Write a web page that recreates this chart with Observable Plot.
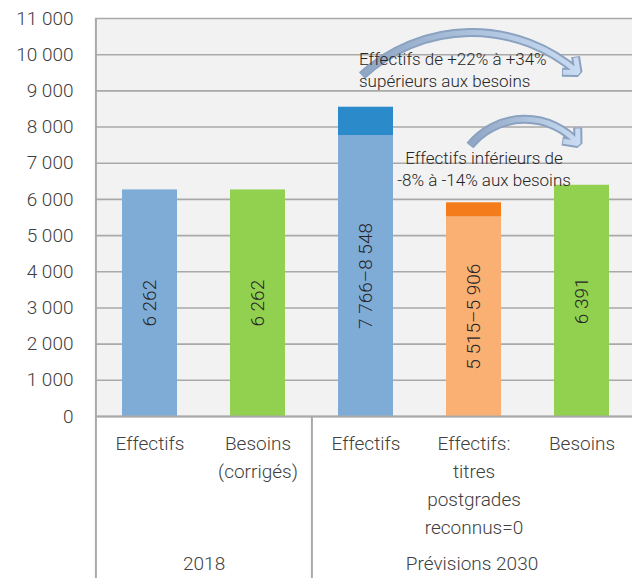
<!DOCTYPE html>
<html><head><meta charset="utf-8">
<script src="https://cdn.jsdelivr.net/npm/d3@7"></script>
<script src="https://cdn.jsdelivr.net/npm/@observablehq/plot@0.6"></script>
<style>
html,body{margin:0;padding:0;background:#fff;}
</style>
</head><body><div id="chart"></div>
<script>
// ---- data ----
const categories = ["Effectifs 2018", "Besoins 2018", "Effectifs 2030", "Effectifs titres 2030", "Besoins 2030"];
const categoryLabels = ["Effectifs", "Besoins\n(corrigés)", "Effectifs", "Effectifs:\ntitres\npostgrades\nreconnus=0", "Besoins"];
const lowValues = [6262, 6262, 7766, 5515, 6391];
const highValues = [6262, 6262, 8548, 5906, 6391];
const baseColors = ["#7facd6", "#92d050", "#7facd6", "#fab073", "#92d050"];
const topColors = [null, null, "#2b8ac9", "#f57c1a", null];
const groups = ["2018", "Prévisions 2030"];
const groupCats = ["Effectifs 2018", "Effectifs titres 2030"];
const yTicks = [0, 1000, 2000, 3000, 4000, 5000, 6000, 7000, 8000, 9000, 10000, 11000];
const notes = ["Effectifs de +22% à +34%\nsupérieurs aux besoins", "Effectifs inférieurs de\n-8% à -14% aux besoins"];
const noteCats = ["Effectifs 2030", "Effectifs titres 2030"];
const noteValues = [10150, 7420];
const arrowFrom = ["Effectifs 2030", "Effectifs titres 2030"];
const arrowTo = ["Besoins 2030", "Besoins 2030"];
const arrowY1 = [9425, 7490];
const arrowY2 = [9508, 7545];

// ---- layout ----
const W = 632, H = 578;
const mL = 95, mR = -4, mT = 18, mB = 162;
const step = (W - mL - mR) / categories.length;
const yMax = 11000;
const yBottom = -mB * yMax / (H - mT - mB);

const locale = d3.formatLocale({decimal: ",", thousands: "\u00a0", grouping: [3], currency: ["", ""]});
const fmt = locale.format(",");

const rows = categories.map((c, i) => ({
  cat: c, low: lowValues[i], high: highValues[i], base: baseColors[i], top: topColors[i],
  label: lowValues[i] === highValues[i] ? fmt(lowValues[i]) : fmt(lowValues[i]) + "–" + fmt(highValues[i])
}));
const topRows = rows.filter(d => d.top);

const textColor = "#404040";
const lineColor = "#a9a9a9";

const defs = () => {
  const g = d3.create("svg:defs");
  const lg = g.append("linearGradient").attr("id", "arrowGrad").attr("x1", "0").attr("x2", "1").attr("y1", "0").attr("y2", "0");
  lg.append("stop").attr("offset", "0%").attr("stop-color", "#8fa6c4");
  lg.append("stop").attr("offset", "100%").attr("stop-color", "#c8dbf2");
  return g.node();
};

const arrowMarks = (i, bend) => {
  const d = [{x1: arrowFrom[i], x2: arrowTo[i], y1: arrowY1[i], y2: arrowY2[i]}];
  const common = {x1: "x1", x2: "x2", y1: "y1", y2: "y2", bend, headAngle: 80, dx: -4, strokeLinecap: "butt"};
  return [
    Plot.arrow(d, {...common, stroke: "#8aa1c0", strokeWidth: 9, headLength: 16 * 1.5 / 9}),
    Plot.arrow(d, {...common, stroke: "url(#arrowGrad)", strokeWidth: 5, headLength: 15 * 1.5 / 5})
  ];
};

const chart = Plot.plot({
  width: W, height: H,
  marginLeft: mL, marginRight: mR, marginTop: mT, marginBottom: mB,
  style: {fontFamily: "Roboto, 'Noto Sans', sans-serif", fontWeight: 300, fontSize: "19px", color: textColor, background: "#fff", overflow: "visible"},
  x: {type: "band", domain: categories, paddingInner: 0.49, paddingOuter: 0.245, axis: null},
  y: {domain: [0, yMax], axis: null},
  color: {type: "identity"},
  marks: [
    defs,
    Plot.frame({fill: "#f2f2f2", stroke: null}),
    Plot.gridY(yTicks, {stroke: lineColor, strokeOpacity: 1, strokeWidth: 1.6}),
    Plot.axisY(yTicks, {tickSize: 0, tickPadding: 22, tickFormat: fmt, fontSize: 19, fill: textColor, label: null}),
    Plot.barY(rows, {x: "cat", y: "low", fill: "base"}),
    Plot.barY(topRows, {x: "cat", y1: "low", y2: "high", fill: "top"}),
    Plot.text(rows, {x: "cat", y: d => d.low / 2, text: "label", rotate: -90, fontSize: 19, fill: "#262626"}),
    Plot.ruleY([0], {stroke: lineColor, strokeWidth: 2}),
    Plot.ruleX([categories[0]], {y1: yMax, y2: yBottom, dx: -step / 2, stroke: lineColor, strokeWidth: 2}),
    Plot.ruleX([categories[2]], {y1: 0, y2: yBottom, dx: -step / 2, stroke: lineColor, strokeWidth: 2}),
    Plot.text(categories, {x: d => d, text: (d, i) => categoryLabels[i], frameAnchor: "bottom", lineAnchor: "top", dy: 14, lineHeight: 1.47, fontSize: 19, fill: textColor}),
    Plot.text([groups[0]], {x: () => groupCats[0], frameAnchor: "bottom", lineAnchor: "top", dy: 140, dx: step / 2, fontSize: 19, fill: textColor}),
    Plot.text([groups[1]], {x: () => groupCats[1], frameAnchor: "bottom", lineAnchor: "top", dy: 140, dx: -2, fontSize: 19, fill: textColor}),
    ...arrowMarks(0, 42),
    ...arrowMarks(1, 50),
    Plot.text([notes[0]], {x: () => noteCats[0], y: () => noteValues[0], text: d => d, textAnchor: "start", lineAnchor: "top", dx: -7, fontSize: 17, lineHeight: 1.3, fill: "#262626"}),
    Plot.text([notes[1]], {x: () => noteCats[1], y: () => noteValues[1], text: d => d, textAnchor: "middle", lineAnchor: "top", dx: 10, fontSize: 17, lineHeight: 1.3, fill: "#262626"})
  ]
});
document.getElementById("chart").append(chart);
</script>
</body></html>
